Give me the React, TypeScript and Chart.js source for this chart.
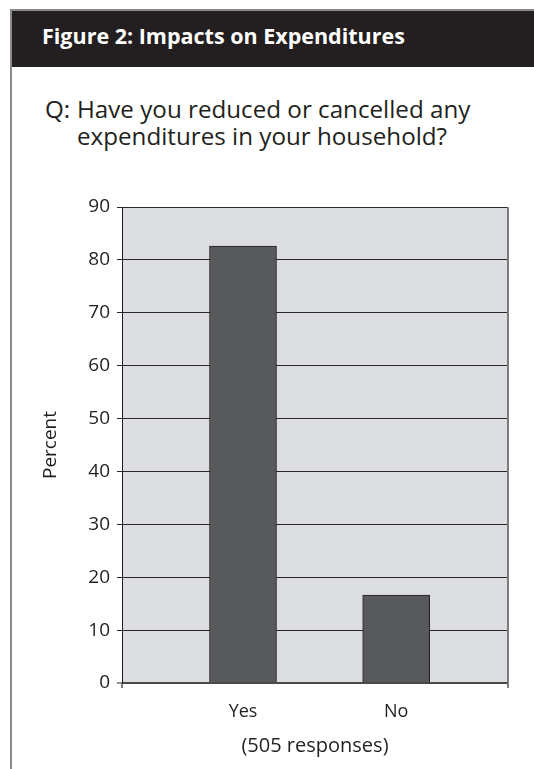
import React, { useEffect, useRef } from "react";
import { Chart, registerables } from "chart.js";

Chart.register(...registerables);

const categories = ["Yes", "No"];
const percentValues = [82.6, 16.6];
const yTickValues = [0, 10, 20, 30, 40, 50, 60, 70, 80, 90];
const headerTitle = "Figure 2: Impacts on Expenditures";
const questionLines = ["Have you reduced or cancelled any", "expenditures in your household?"];
const yAxisTitle = "Percent";
const xAxisTitle = "(505 responses)";

const FONT = "'Open Sans', Lato, sans-serif";
const INK = "#231f20";

const plotDecor = {
  id: "plotDecor",
  beforeDraw(chart: any) {
    const { ctx, chartArea } = chart;
    ctx.save();
    ctx.fillStyle = "#dcdde0";
    ctx.fillRect(chartArea.left, chartArea.top, chartArea.right - chartArea.left, chartArea.bottom - chartArea.top);
    ctx.restore();
  },
  afterDraw(chart: any) {
    const { ctx, chartArea } = chart;
    ctx.save();
    ctx.strokeStyle = "#7c7c7e";
    ctx.lineWidth = 2;
    ctx.beginPath();
    ctx.moveTo(chartArea.right, chartArea.top);
    ctx.lineTo(chartArea.right, chartArea.bottom);
    ctx.stroke();
    ctx.strokeStyle = "#555";
    ctx.lineWidth = 1.5;
    ctx.beginPath();
    ctx.moveTo(chartArea.left, chartArea.bottom);
    ctx.lineTo(chartArea.left, chartArea.bottom + 5);
    ctx.moveTo(chartArea.right, chartArea.bottom);
    ctx.lineTo(chartArea.right, chartArea.bottom + 5);
    ctx.stroke();
    ctx.restore();
  },
};

function ExpenditureChart() {
  const ref = useRef<HTMLCanvasElement | null>(null);
  useEffect(() => {
    if (!ref.current) return;
    const chart = new Chart(ref.current, {
      type: "bar",
      data: {
        datasets: [
          {
            data: percentValues.map((v, i) => ({ x: i + 1, y: v })),
            backgroundColor: "#58595b",
            borderColor: INK,
            borderWidth: 1,
            barThickness: 67,
          },
        ],
      },
      plugins: [plotDecor],
      options: {
        animation: false,
        responsive: false,
        events: [],
        layout: { padding: { left: 30, top: 207, right: 26, bottom: 11 } },
        plugins: { legend: { display: false }, tooltip: { enabled: false } },
        scales: {
          x: {
            type: "linear",
            offset: false,
            min: 0.21,
            max: 2.73,
            afterBuildTicks: (scale: any) => {
              scale.ticks = categories.map((_, i) => ({ value: i + 1 }));
            },
            afterFit: (scale: any) => {
              scale.height = 75;
            },
            ticks: {
              autoSkip: false,
              maxRotation: 0,
              padding: 10,
              color: INK,
              font: { family: FONT, size: 18 },
              callback: (value: any) => categories[Math.round(Number(value)) - 1] ?? "",
            },
            grid: { display: false },
            border: { display: false },
            title: {
              display: true,
              text: xAxisTitle,
              color: INK,
              font: { family: FONT, size: 20 },
              padding: { top: 0, bottom: 0 },
            },
          },
          y: {
            min: 0,
            max: 90,
            afterBuildTicks: (scale: any) => {
              scale.ticks = yTickValues.map((v) => ({ value: v }));
            },
            afterFit: (scale: any) => {
              scale.width = 92;
            },
            ticks: {
              padding: 7,
              color: INK,
              font: { family: FONT, size: 19 },
            },
            grid: {
              color: (ctx: any) => (ctx.tick && ctx.tick.value === 0 ? "#4a4a4c" : "#2a2a2a"),
              lineWidth: (ctx: any) => (ctx.tick && ctx.tick.value === 0 ? 2 : 1),
              tickLength: 5,
              tickColor: "#2a2a2a",
              tickWidth: 1,
            },
            border: { display: true, color: INK, width: 1 },
            title: {
              display: true,
              text: yAxisTitle,
              color: INK,
              font: { family: FONT, size: 19 },
              padding: { top: 9, bottom: 0 },
            },
          },
        },
      },
    } as any);
    return () => chart.destroy();
  }, []);
  return (
    <canvas
      ref={ref}
      width={534}
      height={769}
      style={{ position: "absolute", left: 0, top: 0, width: 534, height: 769 }}
    />
  );
}

export default function App() {
  return (
    <div
      style={{
        position: "fixed",
        left: 0,
        top: 0,
        width: 534,
        height: 769,
        background: "#ffffff",
        overflow: "hidden",
        fontFamily: FONT,
        color: INK,
      }}
    >
      <div
        style={{
          position: "absolute",
          left: 10,
          top: 9,
          right: 0,
          bottom: 0,
          borderLeft: "2px solid #8a8a8a",
          borderTop: "2px solid #8a8a8a",
        }}
      />
      <div
        style={{
          position: "absolute",
          left: 12,
          top: 11,
          right: 0,
          height: 56,
          background: INK,
        }}
      />
      <div
        style={{
          position: "absolute",
          left: 42,
          top: 24,
          fontSize: 21.5,
          lineHeight: "24px",
          fontWeight: 700,
          color: "#ffffff",
          whiteSpace: "nowrap",
        }}
      >
        {headerTitle}
      </div>
      <div
        style={{
          position: "absolute",
          left: 45,
          top: 95,
          fontSize: 24.2,
          lineHeight: "27px",
          display: "flex",
          whiteSpace: "nowrap",
        }}
      >
        <span style={{ width: 32, flex: "none" }}>Q:</span>
        <div>
          {questionLines.map((l, i) => (
            <div key={i}>{l}</div>
          ))}
        </div>
      </div>
      <ExpenditureChart />
    </div>
  );
}
